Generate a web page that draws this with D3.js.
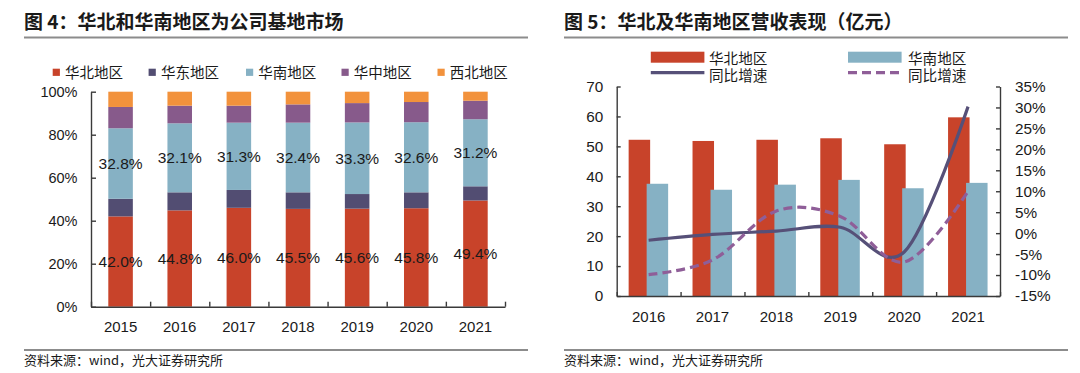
<!DOCTYPE html>
<html>
<head>
<meta charset="utf-8">
<script src="https://cdn.jsdelivr.net/npm/d3@7"></script>
<style>
body { margin: 0; background: #fff; }
svg text { font-family: "Liberation Sans", Arial, "Noto Sans CJK SC", sans-serif; fill: #1a1a1a; }
svg text.cjk { font-family: "Noto Sans CJK SC", sans-serif; }
.axis path, .axis line { stroke: #3a3a3a; stroke-width: 1.4; }
</style>
</head>
<body>
<svg id="chart" width="1080" height="373"></svg>
<script>
// 图4 data (share %)
var shareYears = ['2015', '2016', '2017', '2018', '2019', '2020', '2021'];
var northShare = [42.0, 44.8, 46.0, 45.5, 45.6, 45.8, 49.4];
var eastShare = [8.2, 8.4, 8.3, 7.7, 6.8, 7.4, 6.6];
var southShare = [32.8, 32.1, 31.3, 32.4, 33.3, 32.6, 31.2];
var centralShare = [9.9, 8.2, 7.9, 8.5, 9.0, 9.4, 8.6];
var northwestShare = [7.1, 6.5, 6.5, 5.9, 5.3, 4.8, 4.2];
var shareNames = ['华北地区', '华东地区', '华南地区', '华中地区', '西北地区'];
var shareTicks = [0, 20, 40, 60, 80, 100];

// 图5 data (亿元, %)
var revenueYears = ['2016', '2017', '2018', '2019', '2020', '2021'];
var northRevenue = [52.2, 51.8, 52.2, 52.7, 50.7, 59.7];
var southRevenue = [37.5, 35.5, 37.2, 38.8, 36.0, 37.8];
var northGrowth = [-1.7, -0.3, 0.5, 1.4, -4.5, 30.2];
var southGrowth = [-9.9, -6.4, 5.3, 4.0, -6.9, 10.0];
var revenueTicks = [0, 10, 20, 30, 40, 50, 60, 70];
var growthTicks = [-15, -10, -5, 0, 5, 10, 15, 20, 25, 30, 35];

var colors = {
    north: '#c8432a',
    east: '#524d72',
    south: '#86b1c4',
    central: '#875a8b',
    northwest: '#f2923c',
    northLine: '#565078',
    southLine: '#8f5e98'
};

var svg = d3.select('#chart');
svg.append('rect').attr('width', 1080).attr('height', 373).attr('fill', '#fff');

function frame(x0, title){
    svg.append('text')
        .attr('class', 'cjk')
        .attr('x', x0)
        .attr('y', 29)
        .style('font-size', '19px')
        .style('font-weight', 'bold')
        .text(title);
    svg.append('line')
        .attr('x1', x0).attr('x2', x0 + 504)
        .attr('y1', 37.5).attr('y2', 37.5)
        .attr('stroke', '#8c8c8c').attr('stroke-width', 2);
    svg.append('line')
        .attr('x1', x0).attr('x2', x0 + 504)
        .attr('y1', 350).attr('y2', 350)
        .attr('stroke', '#8c8c8c').attr('stroke-width', 2);
    svg.append('text')
        .attr('class', 'cjk')
        .attr('x', x0)
        .attr('y', 365)
        .style('font-size', '13px')
        .text('资料来源：wind，光大证券研究所');
}

// ---------- 图4: stacked share chart ----------
function shareChart(){
    var left = 91, right = 505, top = 91.7, bottom = 306.7;

    var rows = shareYears.map(function(year, i){
        return {
            year: year,
            north: northShare[i],
            east: eastShare[i],
            south: southShare[i],
            central: centralShare[i],
            northwest: northwestShare[i]
        };
    });
    var keys = ['north', 'east', 'south', 'central', 'northwest'];
    var series = d3.stack().keys(keys)(rows);

    var x = d3.scaleBand().domain(shareYears).range([left, right])
        .paddingInner(0.585).paddingOuter(0.2925);
    var y = d3.scaleLinear().domain([0, 100]).range([bottom, top]);

    var g = svg.append('g');

    g.selectAll('g.layer')
        .data(series)
        .enter().append('g')
        .attr('class', 'layer')
        .attr('fill', function(d){ return colors[d.key]; })
        .selectAll('rect')
        .data(function(d){ return d; })
        .enter().append('rect')
        .attr('x', function(d){ return x(d.data.year); })
        .attr('width', x.bandwidth())
        .attr('y', function(d){ return y(d[1]); })
        .attr('height', function(d){ return y(d[0]) - y(d[1]); });

    // labels for 华北 and 华南
    [series[0], series[2]].forEach(function(layer){
        g.selectAll(null)
            .data(layer)
            .enter().append('text')
            .attr('x', function(d){ return x(d.data.year) + x.bandwidth() / 2; })
            .attr('y', function(d){ return y((d[0] + d[1]) / 2); })
            .attr('dy', '0.36em')
            .attr('text-anchor', 'middle')
            .style('font-size', '15.5px')
            .text(function(d){ return (d[1] - d[0]).toFixed(1) + '%'; });
    });

    var yAxis = d3.axisLeft(y).tickValues(shareTicks)
        .tickSize(-5).tickSizeOuter(0).tickPadding(13.5)
        .tickFormat(function(d){ return d + '%'; });
    var ya = g.append('g').attr('class', 'axis')
        .attr('transform', 'translate(' + left + ',0)')
        .call(yAxis);
    ya.selectAll('text').style('font-size', '14.5px');

    var xTicks = d3.scaleLinear().domain([0, shareYears.length]).range([left, right]);
    g.append('g').attr('class', 'axis')
        .attr('transform', 'translate(0,' + bottom + ')')
        .call(d3.axisBottom(xTicks).ticks(shareYears.length).tickSize(-5).tickSizeOuter(0).tickFormat(''));

    var xl = g.append('g')
        .attr('transform', 'translate(0,' + bottom + ')')
        .call(d3.axisBottom(x).tickSize(0).tickPadding(14.5));
    xl.select('.domain').remove();
    xl.selectAll('text').style('font-size', '15px');

    // legend
    var legendX = [52.7, 148.6, 246, 341.5, 437.5];
    var legend = g.selectAll('g.legend')
        .data(keys)
        .enter().append('g')
        .attr('class', 'legend')
        .attr('transform', function(d, i){ return 'translate(' + legendX[i] + ',72.3)'; });
    legend.append('rect')
        .attr('x', 0).attr('y', -3.6)
        .attr('width', 7.2).attr('height', 7.2)
        .attr('fill', function(d){ return colors[d]; });
    legend.append('text')
        .attr('class', 'cjk')
        .attr('x', 12.3)
        .attr('dy', '0.36em')
        .style('font-size', '14.5px')
        .text(function(d, i){ return shareNames[i]; });
}

// ---------- 图5: revenue bars + growth lines ----------
function revenueChart(){
    var left = 616.7, right = 1000, top = 86.5, bottom = 296;

    var x = d3.scaleBand().domain(revenueYears).range([left, right]);
    var y = d3.scaleLinear().domain([0, 70]).range([bottom, top]);
    var y2 = d3.scaleLinear().domain([-15, 35]).range([bottom, top]);
    var center = function(year){ return x(year) + x.bandwidth() / 2; };

    var g = svg.append('g');

    g.selectAll('rect.north')
        .data(northRevenue)
        .enter().append('rect')
        .attr('class', 'north')
        .attr('fill', colors.north)
        .attr('x', function(d, i){ return center(revenueYears[i]) - 20; })
        .attr('width', 21.5)
        .attr('y', function(d){ return y(d); })
        .attr('height', function(d){ return bottom - y(d); });

    g.selectAll('rect.south')
        .data(southRevenue)
        .enter().append('rect')
        .attr('class', 'south')
        .attr('fill', colors.south)
        .attr('x', function(d, i){ return center(revenueYears[i]) - 2; })
        .attr('width', 21.5)
        .attr('y', function(d){ return y(d); })
        .attr('height', function(d){ return bottom - y(d); });

    var line = d3.line()
        .x(function(d, i){ return center(revenueYears[i]); })
        .y(function(d){ return y2(d); })
        .curve(d3.curveCatmullRom.alpha(0));

    g.append('path')
        .attr('d', line(northGrowth))
        .attr('fill', 'none')
        .attr('stroke', colors.northLine)
        .attr('stroke-width', 3.2);
    g.append('path')
        .attr('d', line(southGrowth))
        .attr('fill', 'none')
        .attr('stroke', colors.southLine)
        .attr('stroke-width', 3.2)
        .attr('stroke-dasharray', '9,5');

    var ya = g.append('g').attr('class', 'axis')
        .attr('transform', 'translate(' + left + ',0)')
        .call(d3.axisLeft(y).tickValues(revenueTicks).tickSize(-4).tickSizeOuter(0).tickPadding(13.5));
    ya.selectAll('text').style('font-size', '15.3px');

    var ya2 = g.append('g').attr('class', 'axis')
        .attr('transform', 'translate(' + right + ',0)')
        .call(d3.axisRight(y2).tickValues(growthTicks).tickSize(-4).tickSizeOuter(0).tickPadding(15)
            .tickFormat(function(d){ return d + '%'; }));
    ya2.selectAll('text').style('font-size', '15.3px');

    var xTicks = d3.scaleLinear().domain([0, revenueYears.length]).range([left, right]);
    g.append('g').attr('class', 'axis')
        .attr('transform', 'translate(0,' + bottom + ')')
        .call(d3.axisBottom(xTicks).ticks(revenueYears.length).tickSize(-4).tickSizeOuter(0).tickFormat(''));

    var xl = g.append('g')
        .attr('transform', 'translate(0,' + bottom + ')')
        .call(d3.axisBottom(x).tickSize(0).tickPadding(15.4));
    xl.select('.domain').remove();
    xl.selectAll('text').style('font-size', '15px');

    // legend
    var lg = g.append('g');
    lg.append('rect').attr('x', 650.8).attr('y', 51.7).attr('width', 53.6).attr('height', 11)
        .attr('fill', colors.north);
    lg.append('rect').attr('x', 848).attr('y', 51.7).attr('width', 53.6).attr('height', 11)
        .attr('fill', colors.south);
    lg.append('line').attr('x1', 650.8).attr('x2', 704.4).attr('y1', 72.7).attr('y2', 72.7)
        .attr('stroke', colors.northLine).attr('stroke-width', 3.2);
    lg.append('line').attr('x1', 848).attr('x2', 901.6).attr('y1', 72.7).attr('y2', 72.7)
        .attr('stroke', colors.southLine).attr('stroke-width', 3.2).attr('stroke-dasharray', '9,5');
    [[709, 58.6, '华北地区'], [908, 58.6, '华南地区'], [709, 76.2, '同比增速'], [908, 76.2, '同比增速']]
        .forEach(function(t){
            lg.append('text').attr('class', 'cjk')
                .attr('x', t[0]).attr('y', t[1]).attr('dy', '0.36em')
                .style('font-size', '14.6px')
                .text(t[2]);
        });
}

frame(24, '图 4：华北和华南地区为公司基地市场');
frame(564, '图 5：华北及华南地区营收表现（亿元）');
shareChart();
revenueChart();
</script>
</body>
</html>
